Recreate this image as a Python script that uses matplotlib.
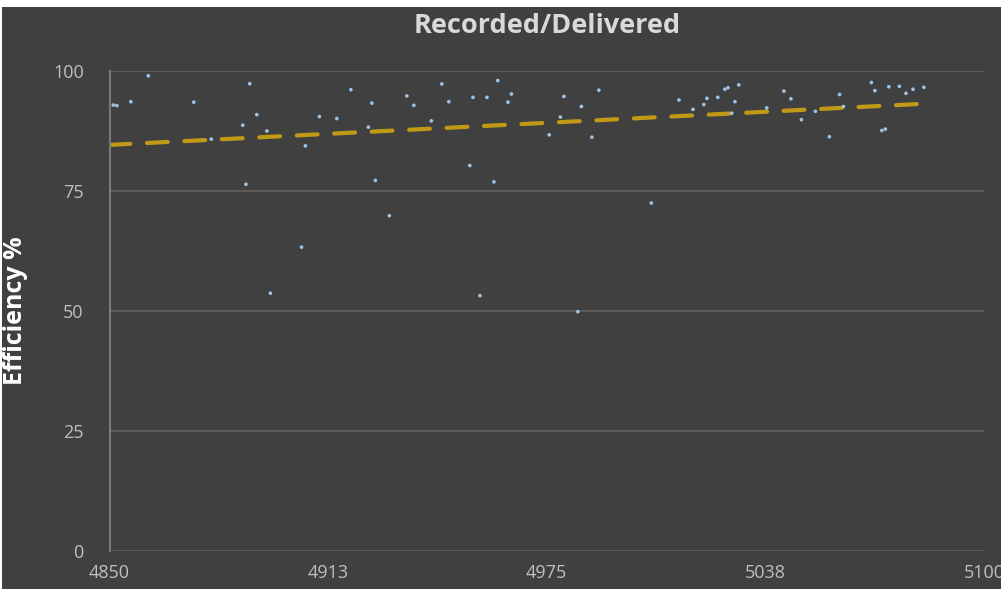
import numpy as np
import matplotlib
matplotlib.use("Agg")
import matplotlib.pyplot as plt
from matplotlib.patches import Rectangle

title = "Recorded/Delivered"
y_label = "Efficiency %"

fill_x = [4851.1, 4852.1, 4856.1, 4861.1, 4874.1, 4879.1, 4888.1, 4890.1, 4889.0, 4892.1,
          4895.0, 4896.0, 4904.9, 4906.0, 4910.0, 4915.0, 4919.0, 4924.0, 4925.0, 4926.0,
          4930.0, 4935.0, 4937.0, 4942.0, 4945.0, 4947.0, 4953.0, 4953.9, 4955.9, 4957.9,
          4959.9, 4961.0, 4963.9, 4964.9, 4975.7, 4978.9, 4979.9, 4983.9, 4984.9, 4987.9,
          4989.9, 5004.9, 5012.8, 5016.8, 5019.9, 5020.8, 5023.9, 5025.9, 5026.8, 5027.9,
          5028.8, 5029.9, 5037.9, 5042.8, 5044.8, 5047.8, 5051.8, 5055.8, 5058.7, 5059.8,
          5067.8, 5068.8, 5070.8, 5071.8, 5072.8, 5075.8, 5077.7, 5079.7, 5082.8]
efficiency = [92.8, 92.7, 93.5, 98.9, 93.4, 85.7, 88.6, 97.25, 76.3, 90.8,
              87.4, 53.6, 63.2, 84.3, 90.4, 90.0, 96.0, 88.2, 93.2, 77.1,
              69.75, 94.7, 92.75, 89.5, 97.2, 93.5, 80.2, 94.4, 53.1, 94.4,
              76.8, 97.9, 93.4, 95.1, 86.6, 90.3, 94.6, 49.75, 92.5, 86.1,
              95.9, 72.4, 93.85, 91.9, 92.9, 94.2, 94.4, 96.1, 96.4, 91.1,
              93.5, 97.0, 92.2, 95.7, 94.1, 89.75, 91.5, 86.2, 95.0, 92.5,
              97.5, 95.8, 87.5, 87.8, 96.6, 96.7, 95.25, 96.1, 96.5]

x_ticks = [4850, 4912.5, 4975, 5037.5, 5100]
x_tick_labels = ["4850", "4913", "4975", "5038", "5100"]
y_ticks = [0, 25, 50, 75, 100]
y_tick_labels = ["0", "25", "50", "75", "100"]

# trendline endpoints (fill number, efficiency)
trend_x = [4850, 5083.5]
trend_y = [84.5, 93.1]

BG = "#404040"
GRID = "#5a5a5a"
TXT = "#bfbfbf"

fig = plt.figure(figsize=(10.01, 5.89), dpi=100)
fig.patch.set_facecolor(BG)
# white margins at top and left edges of the image
fig.patches.append(Rectangle((0, 582/589), 1, 7/589, transform=fig.transFigure,
                             facecolor="white", edgecolor="none", zorder=-5))
fig.patches.append(Rectangle((0, 0), 2/1001, 1, transform=fig.transFigure,
                             facecolor="white", edgecolor="none", zorder=-5))

ax = fig.add_axes([109.5/1001, 38.5/589, 874.5/1001, 480/589])
ax.set_facecolor(BG)
ax.set_xlim(4850, 5100)
ax.set_ylim(0, 100)

for s in ["top", "right", "bottom"]:
    ax.spines[s].set_visible(False)
ax.spines["left"].set_color("#7a7a7a")
ax.spines["left"].set_linewidth(1.5)

ax.set_yticks(y_ticks)
ax.set_yticklabels(y_tick_labels)
ax.set_xticks(x_ticks)
ax.set_xticklabels(x_tick_labels)
ax.tick_params(axis="both", length=0, colors=TXT, labelsize=13)
ax.tick_params(axis="y", pad=18.5)
ax.tick_params(axis="x", pad=10)
for lab in ax.get_xticklabels() + ax.get_yticklabels():
    lab.set_fontfamily("Open Sans")
    lab.set_color(TXT)

ax.grid(axis="y", color=GRID, linewidth=1.5, zorder=1)
ax.set_axisbelow(True)

ax.plot(trend_x, trend_y, color="#c09a14", linewidth=3, linestyle=(0, (5, 4)),
        solid_capstyle="round", dash_capstyle="round", zorder=2)
ax.scatter(fill_x, efficiency, s=7, color="#9dc3e6", edgecolors="none", zorder=3)

fig.text(547/1001, 1 - 26/589, title, ha="center", va="center", fontsize=19.5,
         fontweight="bold", color="#d9d9d9", family="Open Sans")
fig.text(16/1001, 1 - 311/589, y_label, ha="center", va="center", rotation=90,
         fontsize=18, fontweight="bold", color="white", family="Open Sans")

fig.savefig("out.png", dpi=100, facecolor=fig.get_facecolor())
